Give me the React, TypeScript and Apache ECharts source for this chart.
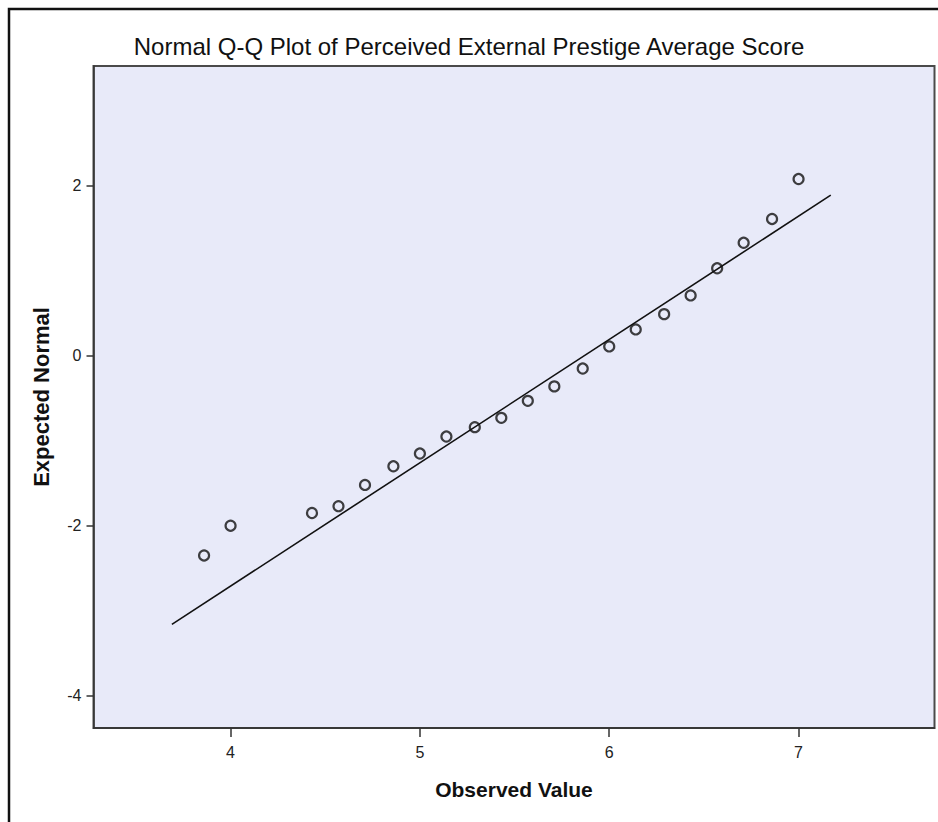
import React, { useEffect, useRef } from "react";
import * as echarts from "echarts";

const titleText = "Normal Q-Q Plot of Perceived External Prestige Average Score";
const xAxisName = "Observed Value";
const yAxisName = "Expected Normal";

const observedValues = [3.86, 4.0, 4.43, 4.57, 4.71, 4.86, 5.0, 5.14, 5.29, 5.43, 5.57, 5.71, 5.86, 6.0, 6.14, 6.29, 6.43, 6.57, 6.71, 6.86, 7.0];
const expectedNormal = [-2.35, -2.0, -1.85, -1.77, -1.52, -1.3, -1.15, -0.95, -0.84, -0.73, -0.53, -0.36, -0.15, 0.11, 0.31, 0.49, 0.71, 1.03, 1.33, 1.61, 2.08];

const refLineX = [3.69, 7.17];
const refLineY = [-3.16, 1.89];

const xTicks = [4, 5, 6, 7];
const yTicks = [-4, -2, 0, 2];

export default function App() {
  const ref = useRef<HTMLDivElement>(null);
  useEffect(() => {
    if (!ref.current) return;
    const chart = echarts.init(ref.current, null, { renderer: "svg" });
    const points = observedValues.map((x, i) => [x, expectedNormal[i]]);
    const line = refLineX.map((x, i) => [x, refLineY[i]]);
    const font = "'Liberation Sans', Arial, sans-serif";
    chart.setOption({
      animation: false,
      backgroundColor: "#ffffff",
      title: {
        text: titleText,
        left: "center",
        top: 29,
        textStyle: {
          fontFamily: font,
          fontSize: 24,
          fontWeight: "normal",
          color: "#111",
        },
      },
      graphic: [
        {
          type: "rect",
          shape: { x: 9, y: 9, width: 960, height: 860 },
          style: { fill: "none", stroke: "#111", lineWidth: 2.5 },
          silent: true,
        },
      ],
      grid: {
        left: 93.5,
        top: 66,
        right: 3.5,
        bottom: 94,
        show: true,
        backgroundColor: "#e8eaf9",
        borderColor: "#4a4a4a",
        borderWidth: 2,
      },
      xAxis: {
        type: "value",
        min: 3.276,
        max: 7.718,
        name: xAxisName,
        nameLocation: "middle",
        nameGap: 51,
        nameTextStyle: {
          fontFamily: font,
          fontWeight: "bold",
          fontSize: 21,
          color: "#111",
        },
        axisLine: { show: true, onZero: false, lineStyle: { color: "#333", width: 1.5 } },
        axisTick: { show: true, length: 9, customValues: xTicks, lineStyle: { color: "#333", width: 1.5 } },
        axisLabel: {
          customValues: xTicks,
          margin: 16,
          fontFamily: font,
          fontSize: 16,
          color: "#222",
        },
        splitLine: { show: false },
      },
      yAxis: {
        type: "value",
        min: -4.38,
        max: 3.41,
        name: yAxisName,
        nameLocation: "middle",
        nameGap: 41,
        nameTextStyle: {
          fontFamily: font,
          fontWeight: "bold",
          fontSize: 22,
          color: "#111",
        },
        axisLine: { show: true, onZero: false, lineStyle: { color: "#333", width: 1.5 } },
        axisTick: { show: true, length: 7, customValues: yTicks, lineStyle: { color: "#333", width: 1.5 } },
        axisLabel: {
          customValues: yTicks,
          margin: 12,
          fontFamily: font,
          fontSize: 16,
          color: "#222",
        },
        splitLine: { show: false },
      },
      series: [
        {
          type: "line",
          data: line,
          symbol: "none",
          lineStyle: { color: "#111", width: 1.6 },
          silent: true,
          z: 2,
        },
        {
          type: "scatter",
          data: points,
          symbol: "circle",
          symbolSize: 10,
          itemStyle: { color: "rgba(0,0,0,0)", borderColor: "#111", borderWidth: 2.2 },
          z: 3,
        },
      ],
    });
    return () => chart.dispose();
  }, []);
  return (
    <div
      ref={ref}
      style={{ position: "absolute", left: 0, top: 0, width: 938, height: 822 }}
    />
  );
}
